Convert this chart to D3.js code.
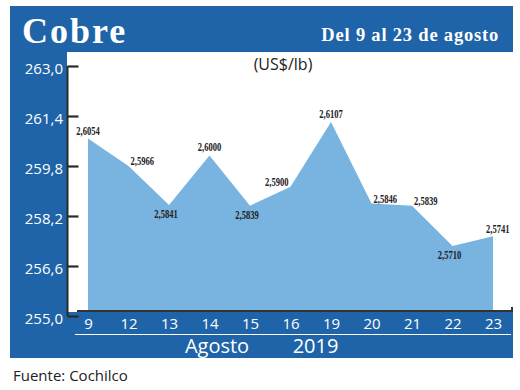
<!DOCTYPE html>
<html><head><meta charset="utf-8">
<script src="https://cdn.jsdelivr.net/npm/d3@7"></script>
<style>html,body{margin:0;padding:0;background:#fff;}svg{display:block;}</style>
</head><body>
<svg id="c" width="520" height="390"></svg>
<script>
const days = ["9","12","13","14","15","16","19","20","21","22","23"];
const prices = [2.6054,2.5966,2.5841,2.6000,2.5839,2.5900,2.6107,2.5846,2.5839,2.5710,2.5741];
const priceLabels = ["2,6054","2,5966","2,5841","2,6000","2,5839","2,5900","2,6107","2,5846","2,5839","2,5710","2,5741"];
const labelSide = ["n","e","s","n","s","w","n","e","e","s","ne"];
const yTicks = [255.0,256.6,258.2,259.8,261.4,263.0];
const yTickLabels = ["255,0","256,6","258,2","259,8","261,4","263,0"];
const title = "Cobre", subtitle = "Del 9 al 23 de agosto", unit = "(US$/lb)";
const month = "Agosto", year = "2019", source = "Fuente: Cochilco";

const blue = "#1f64a8", area = "#79b4e1", ink = "#222";
const svg = d3.select("#c");
const P = {l:10, r:513, t:6, b:358, head:52, axisX:67, plotB:312};

svg.append("rect").attr("x",P.l).attr("y",P.t).attr("width",P.r-P.l).attr("height",P.b-P.t).attr("fill",blue);
svg.append("rect").attr("x",P.axisX).attr("y",P.head).attr("width",P.r-P.axisX).attr("height",P.plotB-P.head).attr("fill","#fff");

const x = d3.scalePoint().domain(days).range([88,493]);
const yAxisS = d3.scaleLinear().domain([255,263]).range([316,66]);
const yVal = d3.scaleLinear().domain([2.5486,2.6286]).range([316,66]);

const g = svg.append("g");
g.append("path").datum(prices.map((v,i)=>({d:days[i],v})))
  .attr("fill",area)
  .attr("d", d3.area().x(d=>x(d.d)).y0(yAxisS(255)).y1(d=>yVal(d.v)));

// bottom strip over area base
svg.append("rect").attr("x",P.l).attr("y",P.plotB).attr("width",P.r-P.l).attr("height",P.b-P.plotB).attr("fill",blue);

// y axis
const ya = svg.append("g").attr("transform",`translate(${P.axisX+0.5},0)`)
  .call(d3.axisRight(yAxisS).tickValues(yTicks).tickSize(11).tickFormat(""));
ya.select(".domain").attr("stroke","#2a2a2a").attr("stroke-width",2).attr("d",`M0,${yAxisS(263)}V${yAxisS(255)}`);
ya.selectAll(".tick line").attr("stroke","#2a2a2a").attr("stroke-width",2.2);
svg.append("g").selectAll("text").data(yTicks).join("text")
  .attr("x",63).attr("y",d=>yAxisS(d)+7.5).attr("text-anchor","end")
  .attr("fill","#fff").attr("font-family","Open Sans").attr("font-size",15)
  .text((d,i)=>yTickLabels[i]);

// x baseline
svg.append("path").attr("d",`M${P.axisX+10},${P.plotB-1}H${P.r-1}V${P.plotB-5}`)
  .attr("fill","none").attr("stroke","#333").attr("stroke-width",2);

// x axis labels
const xa = svg.append("g").attr("transform",`translate(0,${P.plotB})`)
  .call(d3.axisBottom(x).tickSize(0).tickPadding(14));
xa.select(".domain").remove();
xa.selectAll("text").attr("fill","#fff").attr("font-family","Open Sans").attr("font-size",15).attr("dy","0.2em");
svg.append("line").attr("x1",75).attr("x2",511).attr("y1",334.5).attr("y2",334.5).attr("stroke","#fff").attr("stroke-width",1.2);
svg.append("text").attr("x",217).attr("y",353).attr("text-anchor","middle").attr("fill","#fff")
  .attr("font-family","Open Sans").attr("font-size",20).text(month);
svg.append("text").attr("x",315.5).attr("y",353).attr("text-anchor","middle").attr("fill","#fff")
  .attr("font-family","Open Sans").attr("font-size",20).text(year);

// value labels
const off = {n:[0,-4,"middle"], s:[-3,13,"middle"], e:[2,-1,"start"], w:[-2,-1,"end"], ne:[-7,-3,"start"]};
svg.append("g").selectAll("text").data(prices).join("text")
  .attr("x",(d,i)=>x(days[i])+off[labelSide[i]][0])
  .attr("y",(d,i)=>yVal(d)+off[labelSide[i]][1])
  .attr("text-anchor",(d,i)=>off[labelSide[i]][2])
  .attr("font-family","Liberation Serif").attr("font-size",12.5).attr("font-weight","bold")
  .attr("fill",ink).attr("textLength",23.5).attr("lengthAdjust","spacingAndGlyphs")
  .text((d,i)=>priceLabels[i]);

// titles
svg.append("text").attr("x",22).attr("y",43).attr("fill","#fff")
  .attr("font-family","Liberation Serif").attr("font-weight","bold").attr("font-size",36)
  .attr("letter-spacing",2).text(title);
svg.append("text").attr("x",499).attr("y",41).attr("text-anchor","end").attr("fill","#fff")
  .attr("font-family","Liberation Serif").attr("font-weight","bold").attr("font-size",18.5)
  .attr("letter-spacing",0.8).text(subtitle);
svg.append("text").attr("x",283).attr("y",70).attr("text-anchor","middle").attr("fill",ink)
  .attr("font-family","Open Sans").attr("font-size",16).text(unit);
svg.append("text").attr("x",13).attr("y",381).attr("fill",ink)
  .attr("font-family","Open Sans").attr("font-size",15).text(source);
</script>
</body></html>
